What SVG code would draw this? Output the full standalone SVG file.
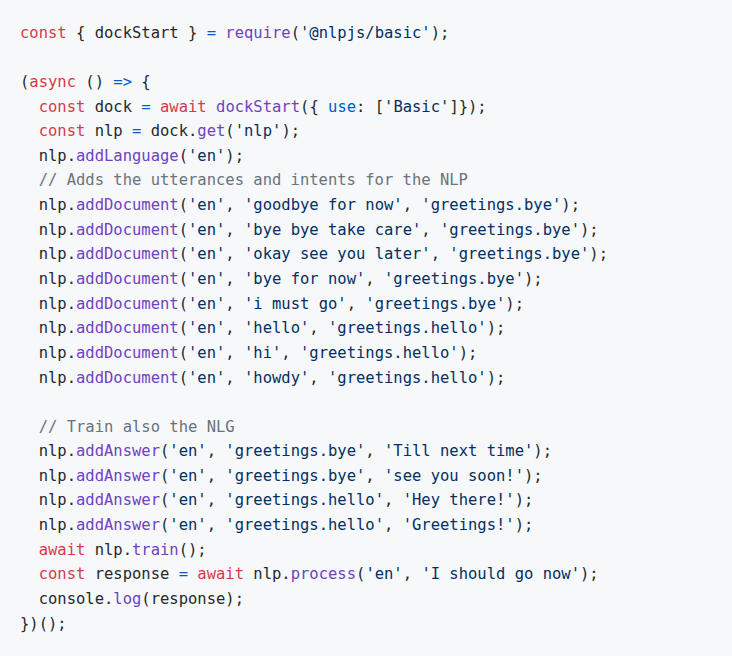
<svg xmlns="http://www.w3.org/2000/svg" width="732" height="656" viewBox="0 0 732 656">
<style>
text{font-family:"DejaVu Sans Mono","Liberation Mono",monospace;font-size:15.5px;fill:#24292e;white-space:pre}
.k{fill:#d73a49}.f{fill:#6f42c1}.s{fill:#032f62}.c{fill:#6a737d}.b{fill:#005cc5}
</style>
<rect width="732" height="656" fill="#f6f8fa"/>
<g id="code" xml:space="preserve">
<text x="20" y="38"><tspan class="k">const</tspan> { dockStart } <tspan class="b">=</tspan> <tspan class="f">require</tspan>(<tspan class="s">'@nlpjs/basic'</tspan>);</text>
<text x="20" y="87">(<tspan class="k">async</tspan> () <tspan class="b">=&gt;</tspan> {</text>
<text x="20" y="112">  <tspan class="k">const</tspan> dock <tspan class="b">=</tspan> <tspan class="k">await</tspan> <tspan class="f">dockStart</tspan>({ <tspan class="b">use</tspan>: [<tspan class="s">'Basic'</tspan>]});</text>
<text x="20" y="136">  <tspan class="k">const</tspan> nlp <tspan class="b">=</tspan> dock.<tspan class="f">get</tspan>(<tspan class="s">'nlp'</tspan>);</text>
<text x="20" y="161">  nlp.<tspan class="f">addLanguage</tspan>(<tspan class="s">'en'</tspan>);</text>
<text x="20" y="185" class="c">  // Adds the utterances and intents for the NLP</text>
<text x="20" y="210">  nlp.<tspan class="f">addDocument</tspan>(<tspan class="s">'en'</tspan>, <tspan class="s">'goodbye for now'</tspan>, <tspan class="s">'greetings.bye'</tspan>);</text>
<text x="20" y="235">  nlp.<tspan class="f">addDocument</tspan>(<tspan class="s">'en'</tspan>, <tspan class="s">'bye bye take care'</tspan>, <tspan class="s">'greetings.bye'</tspan>);</text>
<text x="20" y="259">  nlp.<tspan class="f">addDocument</tspan>(<tspan class="s">'en'</tspan>, <tspan class="s">'okay see you later'</tspan>, <tspan class="s">'greetings.bye'</tspan>);</text>
<text x="20" y="284">  nlp.<tspan class="f">addDocument</tspan>(<tspan class="s">'en'</tspan>, <tspan class="s">'bye for now'</tspan>, <tspan class="s">'greetings.bye'</tspan>);</text>
<text x="20" y="309">  nlp.<tspan class="f">addDocument</tspan>(<tspan class="s">'en'</tspan>, <tspan class="s">'i must go'</tspan>, <tspan class="s">'greetings.bye'</tspan>);</text>
<text x="20" y="333">  nlp.<tspan class="f">addDocument</tspan>(<tspan class="s">'en'</tspan>, <tspan class="s">'hello'</tspan>, <tspan class="s">'greetings.hello'</tspan>);</text>
<text x="20" y="358">  nlp.<tspan class="f">addDocument</tspan>(<tspan class="s">'en'</tspan>, <tspan class="s">'hi'</tspan>, <tspan class="s">'greetings.hello'</tspan>);</text>
<text x="20" y="383">  nlp.<tspan class="f">addDocument</tspan>(<tspan class="s">'en'</tspan>, <tspan class="s">'howdy'</tspan>, <tspan class="s">'greetings.hello'</tspan>);</text>
<text x="20" y="432" class="c">  // Train also the NLG</text>
<text x="20" y="456">  nlp.<tspan class="f">addAnswer</tspan>(<tspan class="s">'en'</tspan>, <tspan class="s">'greetings.bye'</tspan>, <tspan class="s">'Till next time'</tspan>);</text>
<text x="20" y="481">  nlp.<tspan class="f">addAnswer</tspan>(<tspan class="s">'en'</tspan>, <tspan class="s">'greetings.bye'</tspan>, <tspan class="s">'see you soon!'</tspan>);</text>
<text x="20" y="505">  nlp.<tspan class="f">addAnswer</tspan>(<tspan class="s">'en'</tspan>, <tspan class="s">'greetings.hello'</tspan>, <tspan class="s">'Hey there!'</tspan>);</text>
<text x="20" y="530">  nlp.<tspan class="f">addAnswer</tspan>(<tspan class="s">'en'</tspan>, <tspan class="s">'greetings.hello'</tspan>, <tspan class="s">'Greetings!'</tspan>);</text>
<text x="20" y="555">  <tspan class="k">await</tspan> nlp.<tspan class="f">train</tspan>();</text>
<text x="20" y="579">  <tspan class="k">const</tspan> response <tspan class="b">=</tspan> <tspan class="k">await</tspan> nlp.<tspan class="f">process</tspan>(<tspan class="s">'en'</tspan>, <tspan class="s">'I should go now'</tspan>);</text>
<text x="20" y="604">  console.<tspan class="f">log</tspan>(response);</text>
<text x="20" y="629">})();</text>
</g>
</svg>
